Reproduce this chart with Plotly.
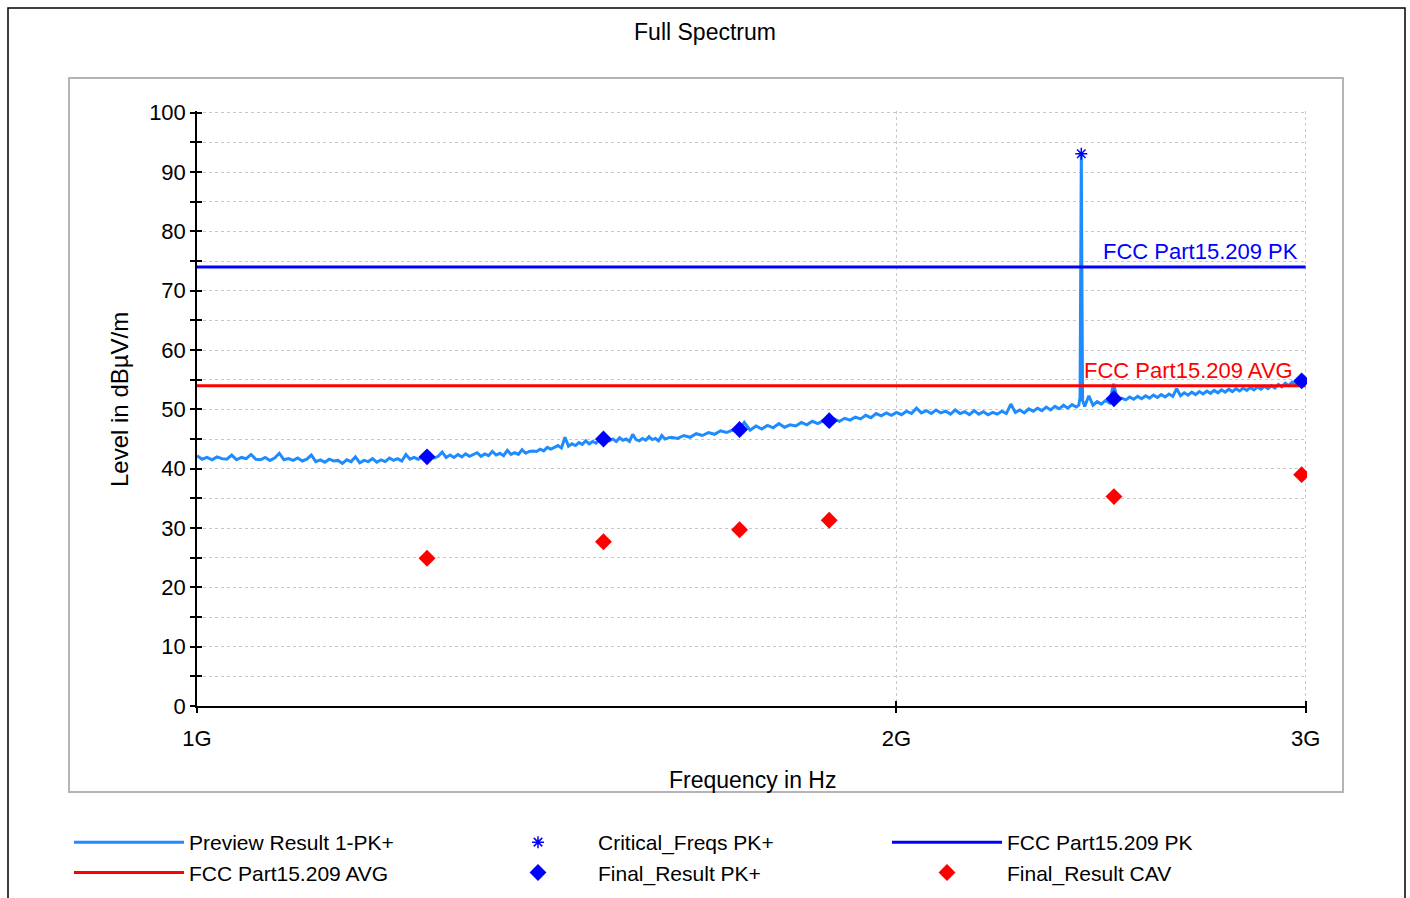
import math
import plotly.graph_objects as go

# ---------------- data ----------------
preview_freq_mhz = [
    1000, 1005, 1010, 1015, 1020, 1025, 1030, 1035, 1040, 1045, 1050, 1055, 1060, 1065, 1070, 1075, 1080, 1085, 1090, 1095,
    1100, 1105, 1110, 1115, 1120, 1125, 1130, 1135, 1140, 1145, 1150, 1155, 1160, 1165, 1170, 1175, 1180, 1185, 1190, 1195,
    1200, 1205, 1210, 1215, 1220, 1225, 1230, 1235, 1240, 1245, 1250, 1255, 1260, 1265, 1270, 1275, 1280, 1285, 1290, 1295,
    1300, 1305, 1310, 1315, 1320, 1325, 1330, 1335, 1340, 1345, 1350, 1355, 1360, 1365, 1370, 1375, 1380, 1385, 1390, 1395,
    1400, 1405, 1410, 1415, 1420, 1425, 1430, 1435, 1440, 1445, 1450, 1455, 1460, 1465, 1470, 1475, 1480, 1485, 1490, 1495,
    1500, 1505, 1510, 1515, 1520, 1525, 1530, 1535, 1540, 1545, 1550, 1555, 1560, 1565, 1570, 1575, 1580, 1585, 1590, 1595,
    1600, 1610, 1620, 1630, 1640, 1650, 1660, 1670, 1680, 1690, 1700, 1710, 1720, 1730, 1740, 1750, 1760, 1770, 1780, 1790,
    1800, 1810, 1820, 1830, 1840, 1850, 1860, 1870, 1880, 1890, 1900, 1910, 1920, 1930, 1940, 1950, 1960, 1970, 1980, 1990,
    2000, 2010, 2020, 2030, 2040, 2050, 2060, 2070, 2080, 2090, 2100, 2110, 2120, 2130, 2140, 2150, 2160, 2170, 2180, 2190,
    2200, 2210, 2220, 2230, 2240, 2250, 2260, 2270, 2280, 2290, 2300, 2310, 2320, 2330, 2340, 2350, 2360, 2370, 2380, 2390,
    2396, 2399, 2401, 2402, 2403, 2405, 2410, 2420, 2430, 2440, 2450, 2460, 2470, 2480, 2490,
    2500, 2510, 2520, 2530, 2540, 2550, 2560, 2570, 2580, 2590, 2600, 2610, 2620, 2630, 2640, 2650, 2660, 2670, 2680, 2690,
    2700, 2710, 2720, 2730, 2740, 2750, 2760, 2770, 2780, 2790, 2800, 2810, 2820, 2830, 2840, 2850, 2860, 2870, 2880, 2890,
    2900, 2910, 2920, 2930, 2940, 2950, 2960, 2970, 2980, 2990, 3000,
]
preview_level = [
    42.2, 41.6, 41.9, 41.5, 42.0, 41.7, 41.6, 42.3, 41.5, 41.9, 41.7, 42.4, 41.6, 41.5, 41.9, 41.4, 41.8, 42.6, 41.5, 41.7,
    41.4, 41.8, 41.3, 41.6, 42.3, 41.2, 41.5, 41.1, 41.6, 41.3, 41.4, 40.9, 41.5, 41.2, 42.0, 41.0, 41.4, 41.2, 41.7, 41.1,
    41.5, 41.2, 41.8, 41.4, 41.7, 41.3, 42.4, 41.6, 41.9, 41.6, 42.0, 41.7, 42.5, 41.8, 42.1, 42.8, 41.9, 42.3, 41.9, 42.4,
    42.0, 42.5, 42.1, 42.4, 42.7, 42.1, 42.5, 42.2, 42.9, 42.3, 42.6, 42.2, 43.1, 42.4, 42.7, 42.4, 43.2, 42.6, 42.9, 43.0,
    42.9, 43.3, 43.0, 43.6, 43.3, 43.6, 43.9, 43.5, 45.3, 43.8, 44.2, 43.9, 44.4, 44.1, 44.7, 44.2, 44.6, 44.3, 44.9, 44.5,
    45.1, 44.7, 45.0, 44.6, 45.2, 44.8, 45.0, 44.6, 45.8, 44.9, 44.7, 45.1, 44.8, 45.4, 44.9, 45.1, 44.7, 45.6, 45.0, 45.2,
    45.3, 45.1, 45.6, 45.3, 45.9, 45.6, 46.1, 45.8, 46.4, 46.1, 46.5, 46.2, 47.8, 46.5, 47.2, 46.7, 47.3, 46.9, 47.6, 47.0,
    47.4, 47.2, 47.8, 47.4, 48.0, 47.6, 48.1, 47.8, 48.4, 48.0, 48.5, 48.2, 48.7, 48.4, 49.0, 48.6, 49.3, 48.9, 49.4, 49.0,
    49.5, 49.1, 49.7, 49.3, 50.2, 49.4, 49.8, 49.3, 49.9, 49.4, 49.7, 49.2, 49.9, 49.3, 49.6, 49.1, 49.8, 49.2, 49.6, 49.1,
    49.5, 49.2, 49.7, 49.3, 50.9, 49.5, 49.9, 49.4, 50.1, 49.7, 50.2, 49.8, 50.4, 49.9, 50.5, 50.1, 50.7, 50.2, 50.8, 50.4,
    50.7, 52.0, 80.0, 93.1, 78.0, 51.5, 50.5, 52.3, 50.7, 51.3, 50.9, 51.5, 51.1, 54.3, 51.5,
    51.9, 51.6, 52.1, 51.7, 52.2, 51.8, 52.3, 51.9, 52.4, 52.0, 52.5, 52.1, 52.6, 52.2, 53.5, 52.3, 52.8, 52.4, 52.9, 52.5,
    53.0, 52.6, 53.1, 52.7, 53.2, 52.8, 53.3, 52.9, 53.4, 53.0, 53.5, 53.1, 53.6, 53.2, 53.7, 53.3, 53.8, 53.4, 53.9, 53.5,
    54.0, 53.6, 54.2, 53.8, 54.4, 54.0, 54.6, 54.2, 54.8, 54.5, 55.0,
]

critical_freq_mhz = [2402]
critical_level = [93.1]

final_freq_mhz = [1256, 1496, 1712, 1871, 2481, 2988]
final_pk = [42.0, 45.0, 46.6, 48.1, 51.8, 54.8]
final_cav = [24.9, 27.7, 29.7, 31.3, 35.3, 39.0]

limit_freq_mhz = [1000, 3000]
limit_pk = [74, 74]
limit_avg = [54, 54]

y_ticks = [0, 10, 20, 30, 40, 50, 60, 70, 80, 90, 100]
x_tick_hz = [1e9, 2e9, 3e9]
x_tick_text = ["1G", "2G", "3G"]

# ---------------- figure ----------------
W, H = 1410, 898
L, R, T, B = 197, 103, 111, 192
PW, PH = W - L - R, H - T - B


def px_x(p):
    return (p - L) / PW


def px_y(p):
    return (H - B - p) / PH


def hz(lst):
    return [v * 1e6 for v in lst]


FONT = "Liberation Sans, Arial, sans-serif"
fig = go.Figure()

fig.add_trace(go.Scatter(x=hz(preview_freq_mhz), y=preview_level, mode="lines",
                         name="Preview Result 1-PK+", line=dict(color="#1e8cff", width=3)))
fig.add_trace(go.Scatter(x=hz(critical_freq_mhz), y=critical_level, mode="markers",
                         name="Critical_Freqs PK+",
                         marker=dict(symbol="asterisk-open", size=10, color="#0000ff",
                                     line=dict(color="#0000ff", width=1.5))))
fig.add_trace(go.Scatter(x=hz(limit_freq_mhz), y=limit_pk, mode="lines",
                         name="FCC Part15.209 PK", line=dict(color="#0000ff", width=3)))
fig.add_trace(go.Scatter(x=hz(limit_freq_mhz), y=limit_avg, mode="lines",
                         name="FCC Part15.209 AVG", line=dict(color="#ff0000", width=3)))
fig.add_trace(go.Scatter(x=hz(final_freq_mhz), y=final_pk, mode="markers",
                         name="Final_Result PK+",
                         marker=dict(symbol="diamond", size=13, color="#0000ff")))
fig.add_trace(go.Scatter(x=hz(final_freq_mhz), y=final_cav, mode="markers",
                         name="Final_Result CAV",
                         marker=dict(symbol="diamond", size=13, color="#ff0000")))

xr = [math.log10(1e9), math.log10(3.004e9)]
yr = [0, 100.3]
grid = dict(gridcolor="#c8c8c8", griddash="dot", gridwidth=1)

ITEMW = 110
fig.update_layout(
    width=W, height=H, autosize=False,
    margin=dict(l=L, r=R, t=T, b=B, pad=0, autoexpand=False),
    paper_bgcolor="white", plot_bgcolor="rgba(0,0,0,0)",
    font=dict(family=FONT, size=22, color="black"),
    title=dict(text="Full Spectrum", x=0.5, xref="container", xanchor="center",
               y=1 - 32 / H, yref="container", yanchor="middle",
               font=dict(size=23, family=FONT, color="black")),
    xaxis=dict(type="log", range=xr, tickvals=x_tick_hz, ticktext=x_tick_text,
               showline=True, linecolor="black", linewidth=1.5,
               ticks="outside", ticklen=5, tickcolor="black", tickwidth=1.5,
               ticklabelstandoff=7, showgrid=True, zeroline=False,
               tickfont=dict(size=22), **grid),
    yaxis=dict(range=yr, tickvals=y_ticks, showline=True, linecolor="black",
               linewidth=1.5, ticks="outside", ticklen=5, tickcolor="black", tickwidth=1.5,
               ticklabelstandoff=0, showgrid=True, zeroline=False, tickfont=dict(size=22),
               minor=dict(dtick=5, ticks="outside", ticklen=5, tickcolor="black",
                          tickwidth=1.5, showgrid=True, gridcolor="#c8c8c8", griddash="dot"),
               **grid),
    xaxis2=dict(type="log", range=xr, overlaying="x", anchor="y", tickvals=x_tick_hz,
                showticklabels=False, ticks="inside", ticklen=5, tickcolor="black",
                tickwidth=1.5, showgrid=False, showline=False, zeroline=False, side="bottom"),
    yaxis2=dict(range=yr, overlaying="y", anchor="x", tickvals=y_ticks,
                showticklabels=False, ticks="inside", ticklen=5, tickcolor="black",
                tickwidth=1.5, showgrid=False, showline=False, zeroline=False, side="left",
                minor=dict(dtick=5, ticks="inside", ticklen=5, tickcolor="black", tickwidth=1.5)),
    showlegend=True,
    legend=dict(orientation="h", x=px_x(69), y=px_y(822), xref="paper", yref="paper",
                xanchor="left", yanchor="top",
                entrywidth=409 - ITEMW - 15, entrywidthmode="pixels", itemwidth=ITEMW,
                font=dict(size=21, family=FONT, color="black"),
                bgcolor="rgba(0,0,0,0)", tracegroupgap=0, traceorder="normal"),
)

# invisible trace to activate overlay axes
fig.add_trace(go.Scatter(x=[1e9], y=[0], xaxis="x2", yaxis="y2", mode="markers",
                         marker=dict(opacity=0), showlegend=False, hoverinfo="skip"))

fig.update_layout(shapes=[
    dict(type="rect", xref="paper", yref="paper", x0=px_x(8), x1=px_x(1405),
         y0=px_y(915), y1=px_y(8), line=dict(color="black", width=1.5),
         fillcolor="white", layer="below"),
    dict(type="rect", xref="paper", yref="paper", x0=px_x(69), x1=px_x(1343),
         y0=px_y(792), y1=px_y(78), line=dict(color="#b4b4b4", width=2),
         fillcolor="white", layer="below"),
])

fig.update_layout(annotations=[
    dict(text="Level in dBµV/m", xref="paper", yref="paper", x=px_x(119), y=px_y(400),
         textangle=-90, showarrow=False, xanchor="center", yanchor="middle",
         font=dict(size=24, family=FONT, color="black")),
    dict(text="Frequency in Hz", xref="paper", yref="paper", x=px_x(752), y=px_y(780),
         showarrow=False, xanchor="center", yanchor="middle",
         font=dict(size=23, family=FONT, color="black")),
    dict(text="FCC Part15.209 PK", xref="x domain", yref="y", x=px_x(1300), y=limit_pk[0],
         showarrow=False, xanchor="right", yanchor="bottom", yshift=1,
         font=dict(size=22, family=FONT, color="#0000ff")),
    dict(text="FCC Part15.209 AVG", xref="x domain", yref="y", x=px_x(1295), y=limit_avg[0],
         showarrow=False, xanchor="right", yanchor="bottom", yshift=1,
         font=dict(size=22, family=FONT, color="#ff0000")),
])

fig.write_html("out.html", config={"displayModeBar": False},
               post_script="document.body.style.margin='0';")
